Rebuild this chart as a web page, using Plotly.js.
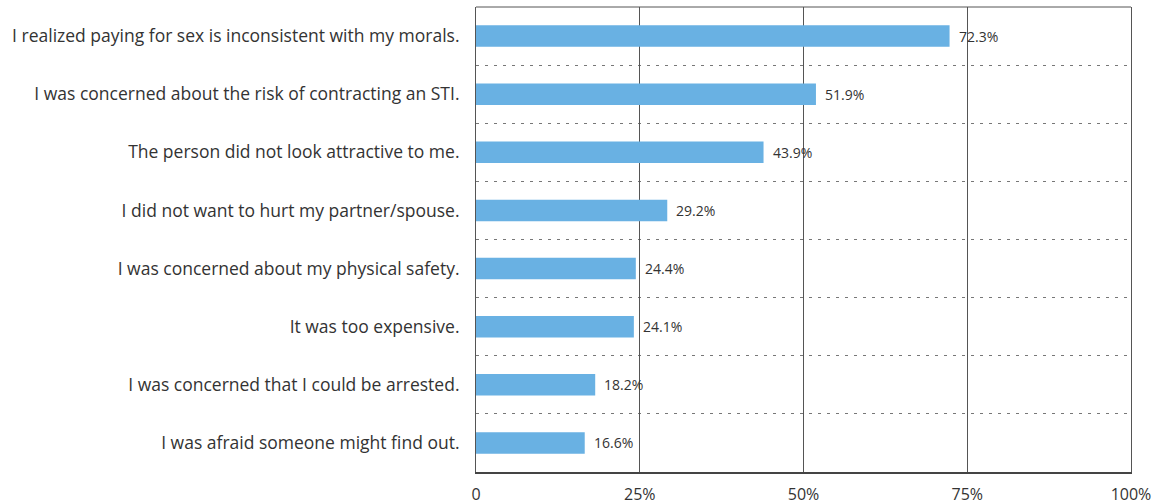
<!DOCTYPE html>
<html>
<head>
<meta charset="utf-8">
<script src="https://cdn.plot.ly/plotly-3.0.1.min.js"></script>
<style>html,body{margin:0;padding:0;background:#fff;}#chart{width:1155px;height:504px;}</style>
</head>
<body>
<div id="chart"></div>
<script>
const categories = [
  "I realized paying for sex is inconsistent with my morals.",
  "I was concerned about the risk of contracting an STI.",
  "The person did not look attractive to me.",
  "I did not want to hurt my partner/spouse.",
  "I was concerned about my physical safety.",
  "It was too expensive.",
  "I was concerned that I could be arrested.",
  "I was afraid someone might find out."
];
const values = [72.3, 51.9, 43.9, 29.2, 24.4, 24.1, 18.2, 16.6];
const xTickVals = [0, 25, 50, 75, 100];
const xTickText = ["0", "25%", "50%", "75%", "100%"];

const positions = categories.map((_, i) => i);
const separators = categories.slice(1).map((_, i) => i + 0.5);

const trace = {
  type: 'bar',
  orientation: 'h',
  x: values,
  y: positions,
  width: 0.37,
  marker: {color: '#69b1e3'},
  hoverinfo: 'skip'
};

const annotations = values.map((v, i) => ({
  x: v, y: positions[i], xref: 'x', yref: 'y',
  text: v.toFixed(1) + '%', showarrow: false,
  xanchor: 'left', yanchor: 'middle', xshift: 7,
  font: {family: 'Open Sans', size: 14, color: '#333'}
}));

const layout = {
  width: 1155, height: 504,
  margin: {l: 476, r: 24, t: 7, b: 32, pad: 0},
  paper_bgcolor: '#fff', plot_bgcolor: '#fff',
  showlegend: false,
  font: {family: 'Open Sans', color: '#333'},
  annotations: annotations,
  shapes: [{type: 'line', xref: 'paper', yref: 'paper', x0: 0, x1: 1, y0: 1, y1: 1, line: {color: '#555', width: 1}}],
  xaxis: {
    range: [0, 100], tickvals: xTickVals, ticktext: xTickText,
    showgrid: true, gridcolor: '#555', gridwidth: 1,
    zeroline: false, showline: true, linecolor: '#444', linewidth: 2,
    ticks: '', ticklabelstandoff: 7,
    tickfont: {family: 'Open Sans', size: 16, color: '#333'},
    fixedrange: true
  },
  yaxis: {
    range: [7.5, -0.5], tickvals: positions, ticktext: categories,
    showgrid: false, zeroline: false,
    showline: true, linecolor: '#555', linewidth: 1, mirror: true,
    ticks: '', ticklabelstandoff: 12,
    tickfont: {family: 'Open Sans', size: 17.5, color: '#333'},
    minor: {tickvals: separators, showgrid: true, gridcolor: '#777', gridwidth: 1, griddash: '3px,6px', ticks: ''},
    fixedrange: true
  }
};

Plotly.newPlot('chart', [trace], layout, {displayModeBar: false, staticPlot: true});
</script>
</body>
</html>
